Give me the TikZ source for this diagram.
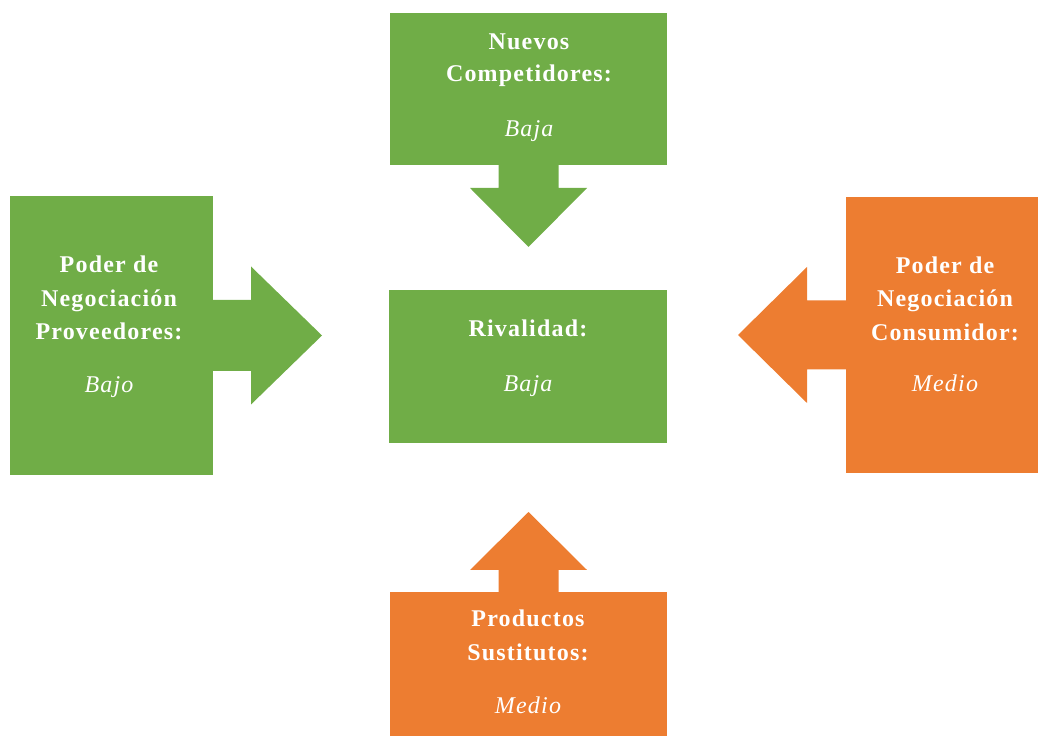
\documentclass[tikz,border=0pt]{standalone}
\usepackage{fontspec}
\setmainfont{Liberation Serif}
\newfontfamily\widefont[LetterSpace=5]{Liberation Serif}
\definecolor{fgreen}{HTML}{70AD47}
\definecolor{forange}{HTML}{ED7D31}
\begin{document}
\begin{tikzpicture}[x=1pt,y=1pt,
  box/.style={inner sep=0pt, outer sep=0pt, draw=none},
  head/.style={text=white, anchor=base, font=\widefont\fontsize{24}{28}\selectfont\bfseries},
  val/.style={text=white, anchor=base, font=\widefont\fontsize{24}{28}\selectfont\itshape}]
\useasboundingbox (0,0) rectangle (1038,736);

% the five boxes
\node[box, fill=fgreen, minimum width=277pt, minimum height=152pt] (top) at (528.5,647) {};
\node[box, fill=fgreen, minimum width=278pt, minimum height=153pt] (mid) at (528,369.5) {};
\node[box, fill=fgreen, minimum width=203pt, minimum height=279pt] (left) at (111.5,400.5) {};
\node[box, fill=forange, minimum width=192pt, minimum height=276pt] (right) at (942,401) {};
\node[box, fill=forange, minimum width=277pt, minimum height=144pt] (bot) at (528.5,72) {};

% block arrows pointing at the centre
\fill[fgreen] ([xshift=-30pt]top.south) -- ([xshift=-30pt,yshift=-23pt]top.south)
  -- ([xshift=-58.5pt,yshift=-23pt]top.south) -- ([yshift=-82pt]top.south)
  -- ([xshift=58.5pt,yshift=-23pt]top.south) -- ([xshift=30pt,yshift=-23pt]top.south)
  -- ([xshift=30pt]top.south) -- cycle;
\fill[fgreen] ([yshift=35.5pt]left.east) -- ([xshift=38pt,yshift=35.5pt]left.east)
  -- ([xshift=38pt,yshift=69pt]left.east) -- ([xshift=109pt]left.east)
  -- ([xshift=38pt,yshift=-69pt]left.east) -- ([xshift=38pt,yshift=-35.5pt]left.east)
  -- ([yshift=-35.5pt]left.east) -- cycle;
\fill[forange] ([yshift=34.5pt]right.west) -- ([xshift=-39pt,yshift=34.5pt]right.west)
  -- ([xshift=-39pt,yshift=68pt]right.west) -- ([xshift=-108pt]right.west)
  -- ([xshift=-39pt,yshift=-68pt]right.west) -- ([xshift=-39pt,yshift=-34.5pt]right.west)
  -- ([yshift=-34.5pt]right.west) -- cycle;
\fill[forange] ([xshift=-30pt]bot.north) -- ([xshift=-30pt,yshift=22pt]bot.north)
  -- ([xshift=-58.5pt,yshift=22pt]bot.north) -- ([yshift=80pt]bot.north)
  -- ([xshift=58.5pt,yshift=22pt]bot.north) -- ([xshift=30pt,yshift=22pt]bot.north)
  -- ([xshift=30pt]bot.north) -- cycle;

% texts
\node[head] (t1) at (529,686) {Nuevos};
\node[head] (t2) at (529,654) {Competidores:};
\node[val]  (t3) at (529,599) {Baja};

\node[head] (l1) at (109,463) {Poder de};
\node[head] (l2) at (109,429) {Negociación};
\node[head] (l3) at (109,396) {Proveedores:};
\node[val]  (l4) at (109,343) {Bajo};

\node[head] (r1) at (945,462) {Poder de};
\node[head] (r2) at (945,429) {Negociación};
\node[head] (r3) at (945,395) {Consumidor:};
\node[val]  (r4) at (945,344) {Medio};

\node[head] (m1) at (528,399) {Rivalidad:};
\node[val]  (m2) at (528,344) {Baja};

\node[head] (b1) at (528,109) {Productos};
\node[head] (b2) at (528,76) {Sustitutos:};
\node[val]  (b3) at (528,23) {Medio};
\end{tikzpicture}
\end{document}
